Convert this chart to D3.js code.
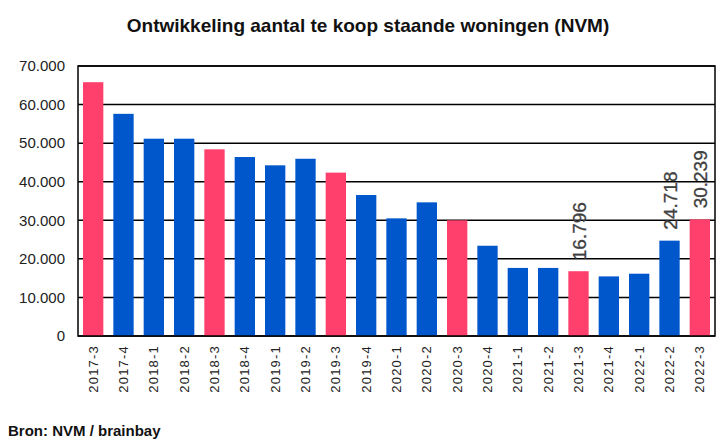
<!DOCTYPE html>
<html>
<head>
<meta charset="utf-8">
<script src="https://cdn.jsdelivr.net/npm/d3@7"></script>
<style>
  body { margin: 0; background: #fff; }
  svg { display: block; font-family: "Liberation Sans", Arial, sans-serif; }
</style>
</head>
<body>
<svg id="chart" width="719" height="443"></svg>
<script>
var quarters = ['2017-3', '2017-4', '2018-1', '2018-2', '2018-3', '2018-4', '2019-1', '2019-2',
                '2019-3', '2019-4', '2020-1', '2020-2', '2020-3', '2020-4', '2021-1', '2021-2',
                '2021-3', '2021-4', '2022-1', '2022-2', '2022-3'];
var counts = [65800, 57600, 51150, 51150, 48400, 46400, 44250, 45950, 42350, 36550, 30500,
              34650, 30000, 23400, 17650, 17650, 16796, 15450, 16150, 24718, 30239];
// third quarter bars are highlighted
var highlight = [true, false, false, false, true, false, false, false, true, false, false,
                 false, true, false, false, false, true, false, false, false, true];
var labelled = ['2021-3', '2022-2', '2022-3'];
var yTicks = [0, 10000, 20000, 30000, 40000, 50000, 60000, 70000];

var margin = { top: 66, right: 4, bottom: 107, left: 78 };
var svg = d3.select('#chart');
var width = +svg.attr('width') - margin.left - margin.right;
var height = +svg.attr('height') - margin.top - margin.bottom;

var fmt = function (v) {
    return d3.format(',')(v).replace(/,/g, '.');
};

var x = d3.scaleBand()
    .domain(quarters)
    .range([0, width])
    .paddingInner(0.33)
    .paddingOuter(0.165);

var y = d3.scaleLinear()
    .domain([0, 70000])
    .range([height, 0]);

var g = svg.append('g')
    .attr('transform', `translate(${margin.left},${margin.top})`);

// title
svg.append('text')
    .attr('x', 368)
    .attr('y', 32)
    .attr('text-anchor', 'middle')
    .attr('font-size', 19)
    .attr('font-weight', 'bold')
    .attr('fill', '#111')
    .text('Ontwikkeling aantal te koop staande woningen (NVM)');

// gridlines
g.selectAll('.grid')
    .data(yTicks)
    .enter()
    .append('line')
        .attr('class', 'grid')
        .attr('x1', 0)
        .attr('x2', width)
        .attr('y1', function (d) { return y(d); })
        .attr('y2', function (d) { return y(d); })
        .attr('stroke', '#000')
        .attr('stroke-width', 1.5);

// bars
var data = quarters.map(function (q, i) {
    return { q: q, v: counts[i], hi: highlight[i] };
});

g.selectAll('.bar')
    .data(data)
    .enter()
    .append('rect')
        .attr('class', 'bar')
        .attr('x', function (d) { return x(d.q); })
        .attr('y', function (d) { return y(d.v); })
        .attr('width', x.bandwidth())
        .attr('height', function (d) { return height - y(d.v); })
        .attr('fill', function (d) { return d.hi ? '#FF406C' : '#0057CC'; });

// value labels
g.selectAll('.val')
    .data(data.filter(function (d) { return labelled.indexOf(d.q) >= 0; }))
    .enter()
    .append('text')
        .attr('class', 'val')
        .attr('transform', function (d) {
            return `translate(${x(d.q) + x.bandwidth() / 2 + 7},${y(d.v) - 11}) rotate(-90)`;
        })
        .attr('font-size', 19)
        .attr('fill', '#404040')
        .attr('stroke', '#404040')
        .attr('stroke-width', 0.3)
        .text(function (d) { return fmt(d.v); });

// frame
g.append('rect')
    .attr('width', width)
    .attr('height', height)
    .attr('fill', 'none')
    .attr('stroke', '#000')
    .attr('stroke-width', 1.5);

// y axis
var yAxis = g.append('g')
    .call(d3.axisLeft(y).tickValues(yTicks).tickFormat(fmt).tickSize(0).tickPadding(13));
yAxis.select('.domain').remove();
yAxis.selectAll('text')
    .attr('font-size', 15)
    .attr('fill', '#222')
    .style('font-family', '"Liberation Sans", Arial, sans-serif');

// x axis
var xAxis = g.append('g')
    .attr('transform', `translate(0,${height})`)
    .call(d3.axisBottom(x).tickSize(0));
xAxis.select('.domain').remove();
xAxis.selectAll('text')
    .attr('transform', 'rotate(-90)')
    .attr('text-anchor', 'end')
    .attr('x', -9)
    .attr('y', 0)
    .attr('dy', '0.35em')
    .attr('font-size', 13)
    .attr('letter-spacing', 1.2)
    .attr('fill', '#222')
    .style('font-family', '"Liberation Sans", Arial, sans-serif');

// source
svg.append('text')
    .attr('x', 8)
    .attr('y', 436)
    .attr('font-size', 15)
    .attr('font-weight', 'bold')
    .attr('fill', '#111')
    .text('Bron: NVM / brainbay');
</script>
</body>
</html>
